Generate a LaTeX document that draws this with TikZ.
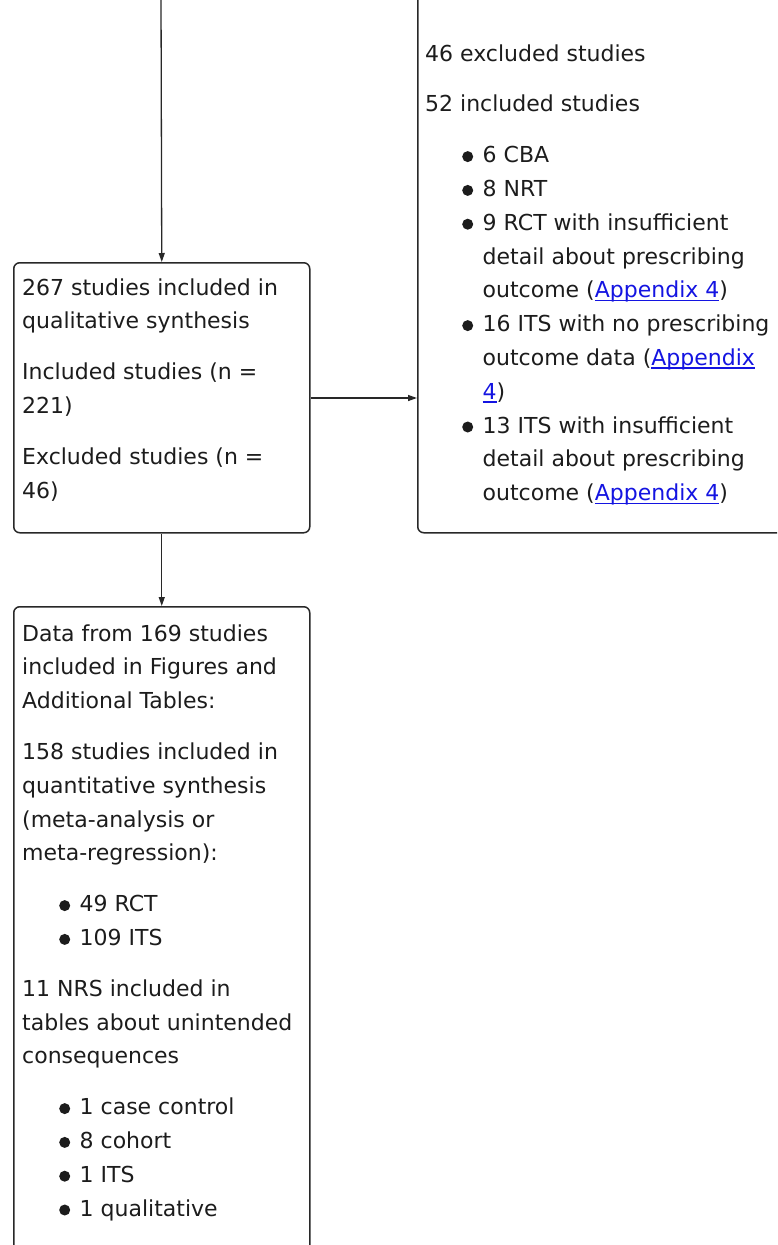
\documentclass[tikz,border=0pt]{standalone}
\usepackage{fontspec}
\setmainfont{DejaVu Sans}
\usetikzlibrary{arrows.meta}
\definecolor{txt}{RGB}{28,28,28}
\definecolor{edge}{RGB}{40,40,40}
\definecolor{linkblue}{RGB}{20,20,225}
\newcommand\bdot{\tikz[baseline=0pt]\fill[txt] (0pt,6pt) circle[radius=5.5pt];}
\newcommand\blt{\hspace*{57.5pt}\llap{\bdot\hspace{9.5pt}}}
\newcommand\ind{\hspace*{57.5pt}}
\newcommand\lnk[1]{{\color{linkblue}\setbox0\hbox{#1}\rlap{\rule[-3.5pt]{\wd0}{1.5pt}}\box0}}
\tikzset{
  box/.style={draw=edge, line width=1.5pt, rounded corners=6pt, inner sep=0pt, anchor=north west},
  txtblock/.style={inner sep=0pt, anchor=base west, align=left, text=txt,
    font=\fontsize{22pt}{33.8pt}\selectfont},
  arr/.style={draw=edge, line width=1.3pt, -{Triangle[length=9pt,width=6pt]}}
}
\begin{document}
\begin{tikzpicture}[x=1pt,y=-1pt]
\useasboundingbox (0,0) rectangle (777,1245);
\clip (0,0) rectangle (777,1245);
% boxes
\node[box, minimum width=296pt, minimum height=270pt] (b1) at (13,262) {};
\node[box, minimum width=383pt, minimum height=560pt] (rbox) at (417,-28) {};
\node[box, minimum width=296pt, minimum height=700pt] (b2) at (13,606) {};
% texts (anchored at the baseline of their last line)
\node[txtblock] (t1) at (22,498) {267 studies included in\\ qualitative synthesis\\[17pt]
Included studies (n =\\ 221)\\[17pt]
Excluded studies (n =\\ 46)};
\node[txtblock] (tr) at (425,500.6) {46 excluded studies\\[17pt]
52 included studies\\[17pt]
\blt 6 CBA\\
\blt 8 NRT\\
\blt 9 RCT with insufficient\\
\ind detail about prescribing\\
\ind outcome (\lnk{Appendix 4})\\
\blt 16 ITS with no prescribing\\
\ind outcome data (\lnk{Appendix}\\
\ind \lnk{4})\\
\blt 13 ITS with insufficient\\
\ind detail about prescribing\\
\ind outcome (\lnk{Appendix 4})};
\node[txtblock] (t2) at (22,1216) {Data from 169 studies\\ included in Figures and\\ Additional Tables:\\[17pt]
158 studies included in\\ quantitative synthesis\\ (meta-analysis or\\ meta-regression):\\[17pt]
\blt 49 RCT\\
\blt 109 ITS\\[17pt]
11 NRS included in\\ tables about unintended\\ consequences\\[17pt]
\blt 1 case control\\
\blt 8 cohort\\
\blt 1 ITS\\
\blt 1 qualitative};
% connectors
\coordinate (top) at (161,-5);
\coordinate (mid) at (0,398);
\draw[arr] (top) -- (b1.north);
\draw[arr] (b1.east |- mid) -- (rbox.west |- mid);
\draw[arr] (b1.south) -- (b2.north);
\end{tikzpicture}
\end{document}
